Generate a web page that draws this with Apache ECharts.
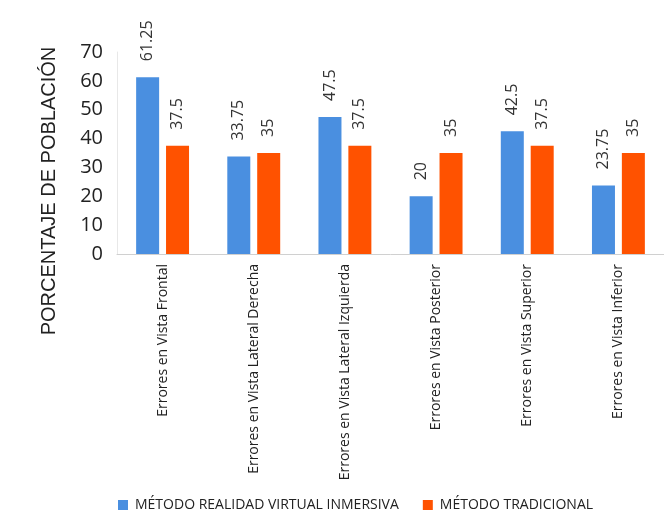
<!DOCTYPE html>
<html>
<head>
<meta charset="utf-8">
<script src="https://cdn.jsdelivr.net/npm/echarts@6/dist/echarts.min.js"></script>
<style>
html, body { margin: 0; padding: 0; background: #fff; }
#chart { width: 664px; height: 518px; }
</style>
</head>
<body>
<div id="chart"></div>
<script>
var categorias = ['Errores en Vista Frontal', 'Errores en Vista Lateral Derecha', 'Errores en Vista Lateral Izquierda',
                  'Errores en Vista Posterior', 'Errores en Vista Superior', 'Errores en Vista Inferior'];
var realidadVirtual = [61.25, 33.75, 47.5, 20, 42.5, 23.75];
var tradicional = [37.5, 35, 37.5, 35, 37.5, 35];
var ticksY = [0, 10, 20, 30, 40, 50, 60, 70];

var chart = echarts.init(document.getElementById('chart'));

var etiqueta = {
    show: true,
    position: 'top',
    rotate: 90,
    align: 'left',
    verticalAlign: 'middle',
    distance: 16,
    fontFamily: 'Open Sans',
    fontSize: 16,
    color: '#333'
};

chart.setOption({
    animation: false,
    textStyle: { fontFamily: 'Open Sans' },
    grid: { left: 117, top: 52, width: 552, height: 202 },
    legend: {
        bottom: 1,
        left: 113,
        itemWidth: 10,
        itemHeight: 10,
        itemGap: 24,
        icon: 'rect',
        textStyle: { fontSize: 14, color: '#222', fontFamily: 'Open Sans', padding: [0, 0, 0, 2] },
        data: ['MÉTODO REALIDAD VIRTUAL INMERSIVA', 'MÉTODO TRADICIONAL']
    },
    xAxis: {
        type: 'category',
        data: categorias,
        axisLine: { lineStyle: { color: '#d0d0d0' } },
        axisTick: { show: false },
        axisLabel: {
            rotate: 90,
            margin: 10,
            fontSize: 14,
            color: '#222',
            fontFamily: 'Open Sans'
        }
    },
    yAxis: {
        type: 'value',
        min: ticksY[0],
        max: ticksY[ticksY.length - 1],
        interval: 10,
        name: 'PORCENTAJE DE POBLACIÓN',
        nameLocation: 'middle',
        nameRotate: 90,
        nameGap: 58,
        nameTextStyle: { fontSize: 20, color: '#222', fontFamily: 'Liberation Sans', padding: [0, 76, 0, 0] },
        axisLine: { show: true, lineStyle: { color: '#e8e8e8' } },
        axisTick: { show: false },
        splitLine: { show: false },
        axisLabel: { fontSize: 20, color: '#222', margin: 14, fontFamily: 'Open Sans' }
    },
    series: [
        {
            name: 'MÉTODO REALIDAD VIRTUAL INMERSIVA',
            type: 'bar',
            data: realidadVirtual,
            barWidth: 23,
            barGap: '30%',
            itemStyle: { color: '#4a8fe0' },
            label: etiqueta
        },
        {
            name: 'MÉTODO TRADICIONAL',
            type: 'bar',
            data: tradicional,
            barWidth: 23,
            itemStyle: { color: '#ff5200' },
            label: etiqueta
        }
    ]
});
</script>
</body>
</html>
